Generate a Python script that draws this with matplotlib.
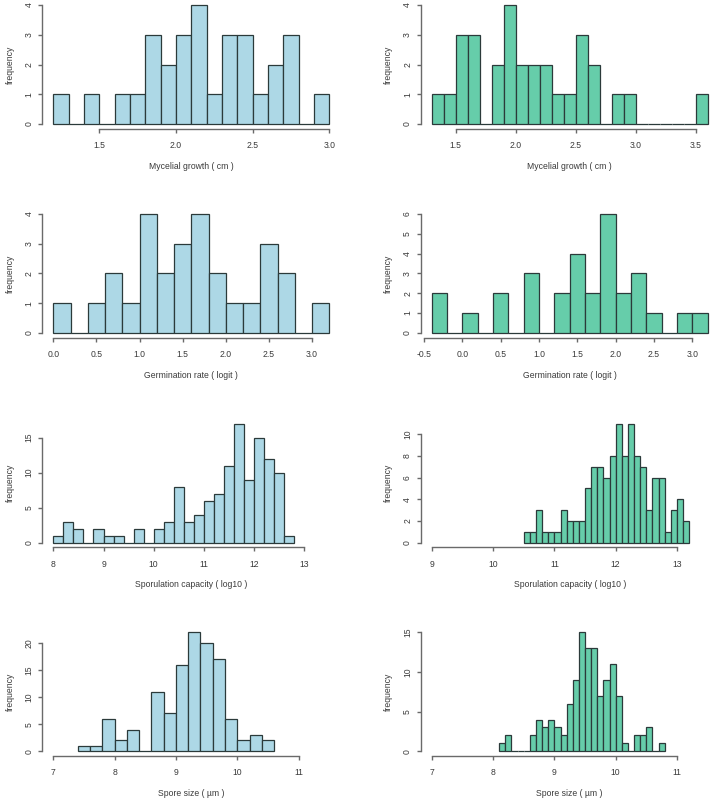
import numpy as np
import matplotlib
matplotlib.use("Agg")
import matplotlib.pyplot as plt

plt.rcParams['font.family'] = ['Liberation Sans', 'DejaVu Sans']

# bin edges start / width and counts
myc_a_start, myc_a_width = 1.2, 0.1
myc_a_counts = [1, 0, 1, 0, 1, 1, 3, 2, 3, 4, 1, 3, 3, 1, 2, 3, 0, 1]
myc_b_start, myc_b_width = 1.3, 0.1
myc_b_counts = [1, 1, 3, 3, 0, 2, 4, 2, 2, 2, 1, 1, 3, 2, 0, 1, 1, 0, 0, 0, 0, 0, 1]

germ_a_start, germ_a_width = 0.0, 0.2
germ_a_counts = [1, 0, 1, 2, 1, 4, 2, 3, 4, 2, 1, 1, 3, 2, 0, 1]
germ_b_start, germ_b_width = -0.4, 0.2
germ_b_counts = [2, 0, 1, 0, 2, 0, 3, 0, 2, 4, 2, 6, 2, 3, 1, 0, 1, 1]

spor_a_start, spor_a_width = 8.0, 0.2
spor_a_counts = [1, 3, 2, 0, 2, 1, 1, 0, 2, 0, 2, 3, 8, 3, 4, 6, 7, 11, 17, 9, 15, 12, 10, 1]
spor_b_start, spor_b_width = 10.5, 0.1
spor_b_counts = [1, 1, 3, 1, 1, 1, 3, 2, 2, 2, 5, 7, 7, 6, 8, 11, 8, 11, 8, 7, 3, 6, 6, 1, 3, 4, 2]

size_a_start, size_a_width = 7.4, 0.2
size_a_counts = [1, 1, 6, 2, 4, 0, 11, 7, 16, 22, 20, 17, 6, 2, 3, 2]
size_b_start, size_b_width = 8.1, 0.1
size_b_counts = [1, 2, 0, 0, 0, 2, 4, 3, 4, 3, 2, 6, 9, 15, 13, 13, 7, 9, 11, 7, 1, 0, 2, 2, 3, 0, 1]

xlabels = ["Mycelial growth ( cm )", "Germination rate ( logit )",
           "Sporulation capacity ( log10 )", "Spore size ( \u00b5m )"]

panels = [
    (myc_a_start, myc_a_width, myc_a_counts, (1.128, 3.072), [1.5, 2.0, 2.5, 3.0], [0, 1, 2, 3, 4], "{:.1f}"),
    (myc_b_start, myc_b_width, myc_b_counts, (1.208, 3.692), [1.5, 2.0, 2.5, 3.0, 3.5], [0, 1, 2, 3, 4], "{:.1f}"),
    (germ_a_start, germ_a_width, germ_a_counts, (-0.128, 3.328), [0.0, 0.5, 1.0, 1.5, 2.0, 2.5, 3.0], [0, 1, 2, 3, 4], "{:.1f}"),
    (germ_b_start, germ_b_width, germ_b_counts, (-0.544, 3.344), [-0.5, 0.0, 0.5, 1.0, 1.5, 2.0, 2.5, 3.0], [0, 1, 2, 3, 4, 5, 6], "{:.1f}"),
    (spor_a_start, spor_a_width, spor_a_counts, (7.78, 13.72), [8, 9, 10, 11, 12, 13], [0, 5, 10, 15], "{:.0f}"),
    (spor_b_start, spor_b_width, spor_b_counts, (8.82, 13.68), [9, 10, 11, 12, 13], [0, 2, 4, 6, 8, 10], "{:.0f}"),
    (size_a_start, size_a_width, size_a_counts, (6.82, 11.68), [7, 8, 9, 10, 11], [0, 5, 10, 15, 20], "{:.0f}"),
    (size_b_start, size_b_width, size_b_counts, (6.82, 11.68), [7, 8, 9, 10, 11], [0, 5, 10, 15], "{:.0f}"),
]

colors = ["#ADD8E6", "#66CDAA"]
W, H = 712, 800
col_left = [42.3, 420.7]
col_width = 298.0
row_top = [0.3, 209.2, 418.8, 627.5]
row_height = 128.5

fig = plt.figure(figsize=(W / 100, H / 100), dpi=100)
fig.patch.set_facecolor("white")

txt = "#3a3a3a"
axc = "#6a6a6a"
fs = 6.2

for i, (start, width, counts, xl, xt, yt, fmt) in enumerate(panels):
    r, c = divmod(i, 2)
    ax = fig.add_axes([col_left[c] / W, 1 - (row_top[r] + row_height) / H,
                       col_width / W, row_height / H])
    counts = np.array(counts)
    edges = start + width * np.arange(len(counts))
    ax.bar(edges, counts, width=width, align="edge", color=colors[c],
           edgecolor="#2b3a3a", linewidth=0.9)
    ymax = counts.max()
    ax.set_xlim(*xl)
    ax.set_ylim(-0.04 * ymax, 1.04 * ymax)
    ax.set_xticks(xt)
    ax.set_xticklabels([fmt.format(v) for v in xt])
    ax.set_yticks(yt)
    ax.set_yticklabels([str(v) for v in yt], rotation=90, va="center")
    for s in ["top", "right"]:
        ax.spines[s].set_visible(False)
    ax.spines["left"].set_bounds(yt[0], yt[-1])
    ax.spines["bottom"].set_bounds(xt[0], xt[-1])
    for s in ["left", "bottom"]:
        ax.spines[s].set_color(axc)
        ax.spines[s].set_linewidth(1.0)
    ax.tick_params(axis="x", length=3, width=1.0, color=axc, labelsize=fs,
                   labelcolor=txt, pad=5.8)
    ax.tick_params(axis="y", length=3, width=1.0, color=axc, labelsize=fs,
                   labelcolor=txt, pad=3.2)
    ax.set_xlabel(xlabels[r], fontsize=fs, color=txt, labelpad=8.5)
    ax.set_ylabel("frequency", fontsize=fs, color=txt, labelpad=7)
    ax.patch.set_visible(False)

fig.savefig("out.png", dpi=100, facecolor="white")
